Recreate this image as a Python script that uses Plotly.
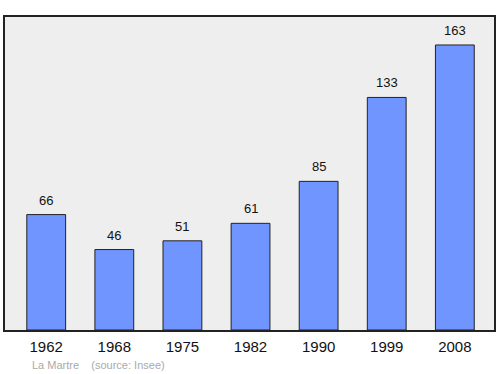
import plotly.graph_objects as go

years = ["1962", "1968", "1975", "1982", "1990", "1999", "2008"]
population = [66, 46, 51, 61, 85, 133, 163]
source_text = "La Martre    (source: Insee)"

fig = go.Figure()
fig.add_trace(go.Bar(
    x=list(range(len(years))), y=population,
    width=0.57,
    marker=dict(color="#7095ff", line=dict(color="#222222", width=1)),
    hoverinfo="skip",
))
for i, v in enumerate(population):
    fig.add_annotation(x=i, y=v, text=str(v), showarrow=False,
                       yanchor="bottom", yshift=5,
                       font=dict(family="Liberation Sans, Arial", size=13, color="#111111"))
fig.add_annotation(xref="paper", yref="paper", x=0.052, y=-0.085,
                   xanchor="left", yanchor="top", showarrow=False,
                   text=source_text.replace("    ", "&nbsp;&nbsp;&nbsp;&nbsp;"),
                   font=dict(family="Liberation Sans, Arial", size=11, color="#aaaaaa"))
fig.update_layout(
    width=500, height=374,
    margin=dict(l=5, r=4, t=17, b=44),
    paper_bgcolor="white", plot_bgcolor="#eeeeee",
    showlegend=False,
    xaxis=dict(range=[-0.605, 6.575], tickmode="array", tickvals=list(range(len(years))),
               ticktext=years, showgrid=False, zeroline=False, showline=True, mirror=True,
               linecolor="#222222", linewidth=1.5, ticks="", ticklabelstandoff=2,
               tickfont=dict(family="Liberation Sans, Arial", size=15, color="#111111")),
    yaxis=dict(range=[0, 179], showgrid=False, zeroline=False, showticklabels=False,
               showline=True, mirror=True, linecolor="#222222", linewidth=1.5, ticks=""),
)
fig.write_html("out.html")
